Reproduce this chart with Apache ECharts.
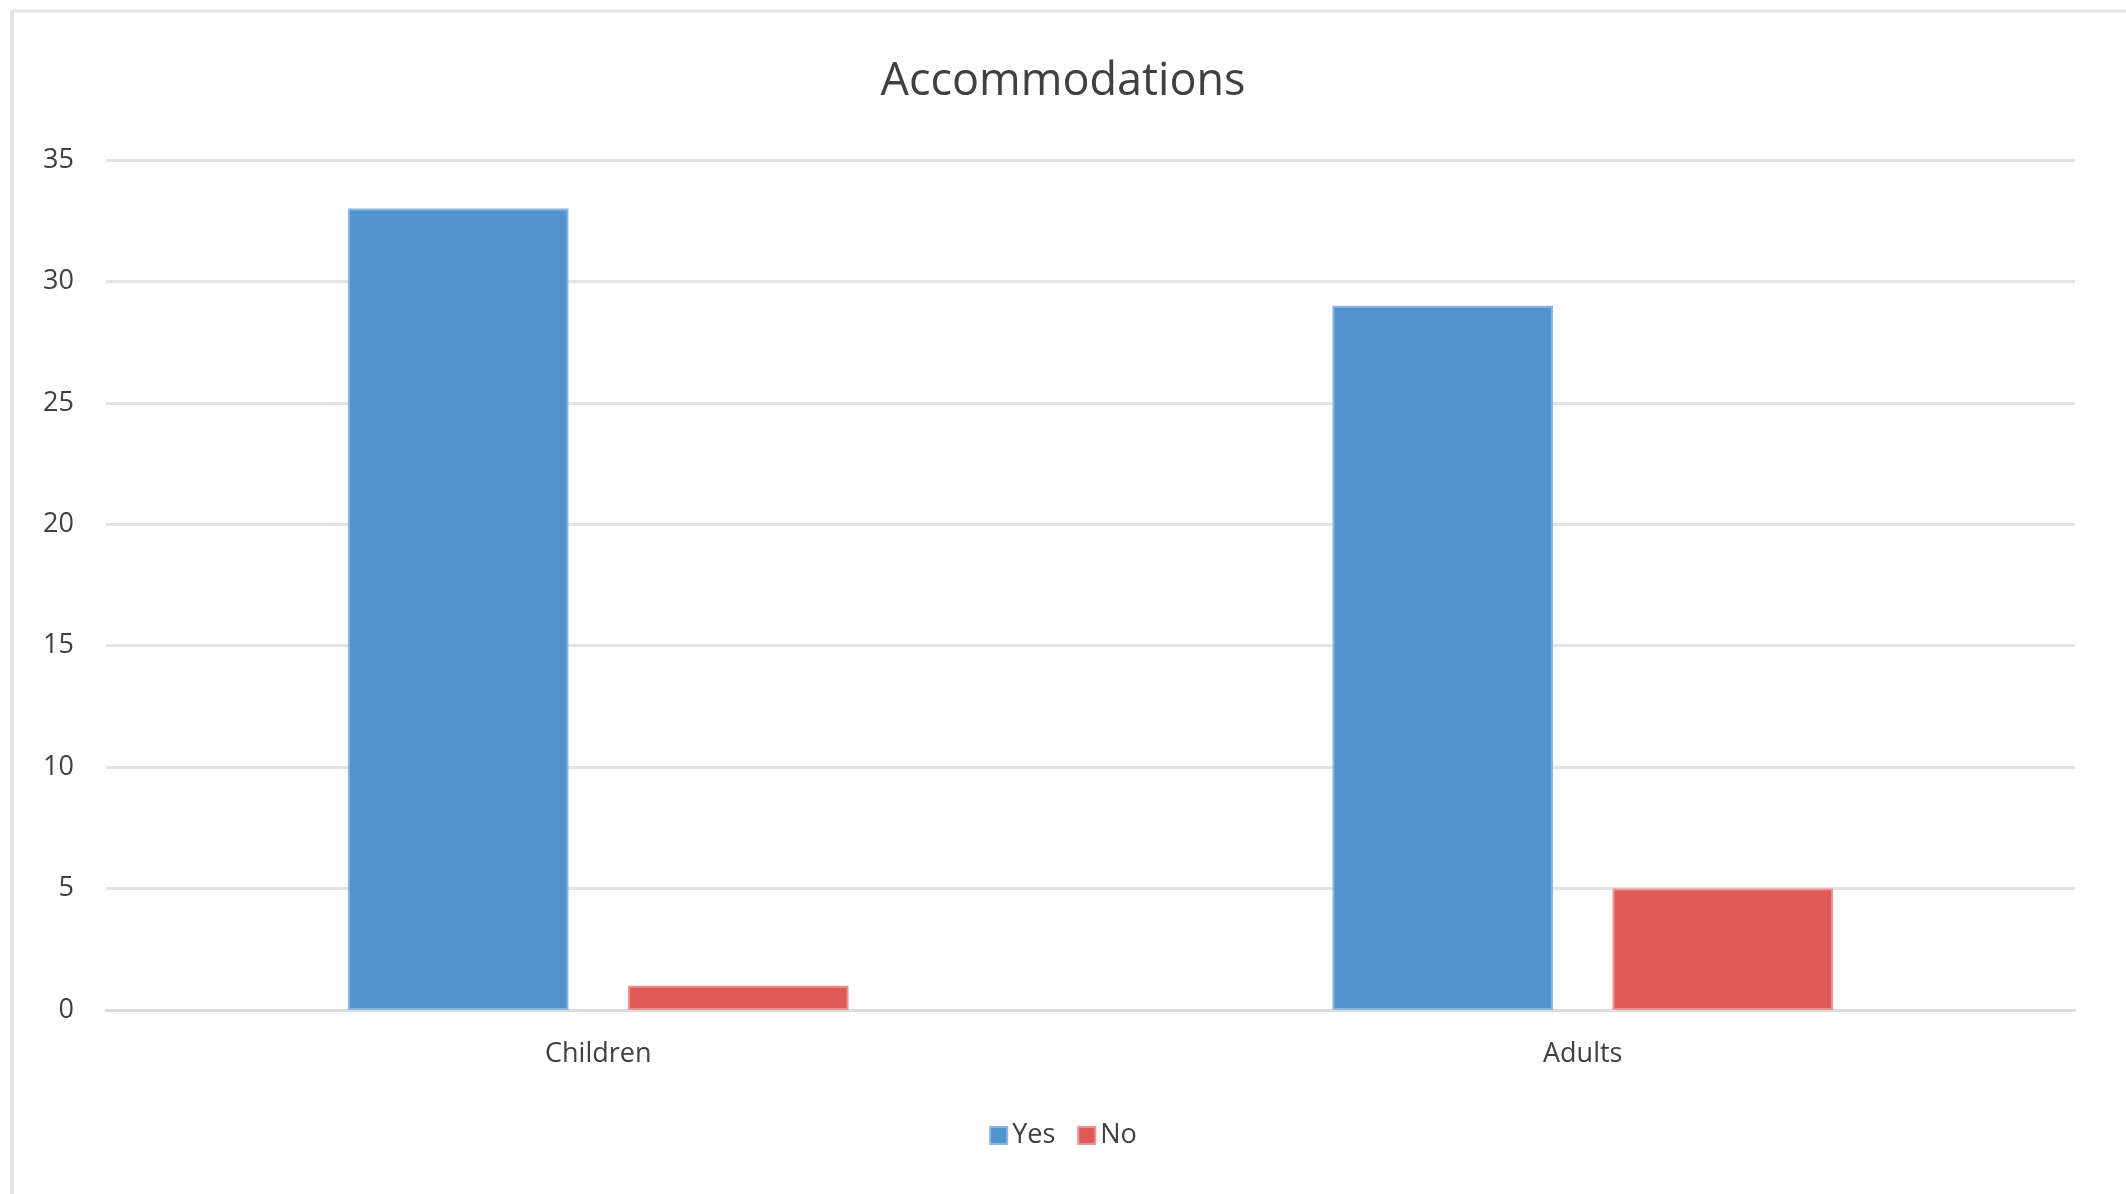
<!DOCTYPE html>
<html><head><meta charset="utf-8">
<script src="https://cdn.jsdelivr.net/npm/echarts@6/dist/echarts.min.js"></script>
<style>html,body{margin:0;padding:0;background:#fff}#c{width:2126px;height:1194px}</style>
</head><body><div id="c"></div>
<script>
const categories = ['Children', 'Adults'];
const yesValues = [33, 29];
const noValues = [1, 5];
const seriesNames = ['Yes', 'No'];
const yTicks = [0, 5, 10, 15, 20, 25, 30, 35];

const chart = echarts.init(document.getElementById('c'));
const font = "'Open Sans', 'Liberation Sans', sans-serif";
chart.setOption({
  backgroundColor: '#ffffff',
  animation: false,
  title: {
    text: 'Accommodations', left: 'center', top: 55,
    textStyle: { fontFamily: font, fontSize: 45, fontWeight: 'normal', color: '#404040' }
  },
  legend: {
    data: seriesNames, bottom: 40, left: 'center', itemWidth: 17, itemHeight: 17, itemGap: 22,
    icon: 'rect',
    textStyle: { fontFamily: font, fontSize: 27, color: '#404040' }
  },
  graphic: [
    { type: 'line', shape: { x1: 12, y1: 11, x2: 2126, y2: 11 }, style: { stroke: '#e3e3e3', lineWidth: 3 } },
    { type: 'line', shape: { x1: 12, y1: 10, x2: 12, y2: 1194 }, style: { stroke: '#e3e3e3', lineWidth: 4 } }
  ],
  grid: { left: 106, right: 51, top: 160, bottom: 184 },
  xAxis: {
    type: 'category', data: categories,
    axisLine: { lineStyle: { color: '#dcdcdc', width: 3 } },
    axisTick: { show: false },
    axisLabel: { fontFamily: font, fontSize: 27, color: '#404040', margin: 31 }
  },
  yAxis: {
    type: 'value', min: 0, max: 35, interval: 5,
    axisLine: { show: false }, axisTick: { show: false },
    splitLine: { lineStyle: { color: '#e3e3e3', width: 3 } },
    axisLabel: { fontFamily: font, fontSize: 27, color: '#404040', margin: 32,
      formatter: v => yTicks.includes(v) ? String(v) : '' }
  },
  series: [
    { name: seriesNames[0], type: 'bar', data: yesValues, barWidth: '22.4%', barGap: '27%',
      itemStyle: { color: '#5193cf', borderColor: '#8ab6e0', borderWidth: 2 } },
    { name: seriesNames[1], type: 'bar', data: noValues, barWidth: '22.4%',
      itemStyle: { color: '#df5a56', borderColor: '#ea9491', borderWidth: 2 } }
  ]
});
</script></body></html>
